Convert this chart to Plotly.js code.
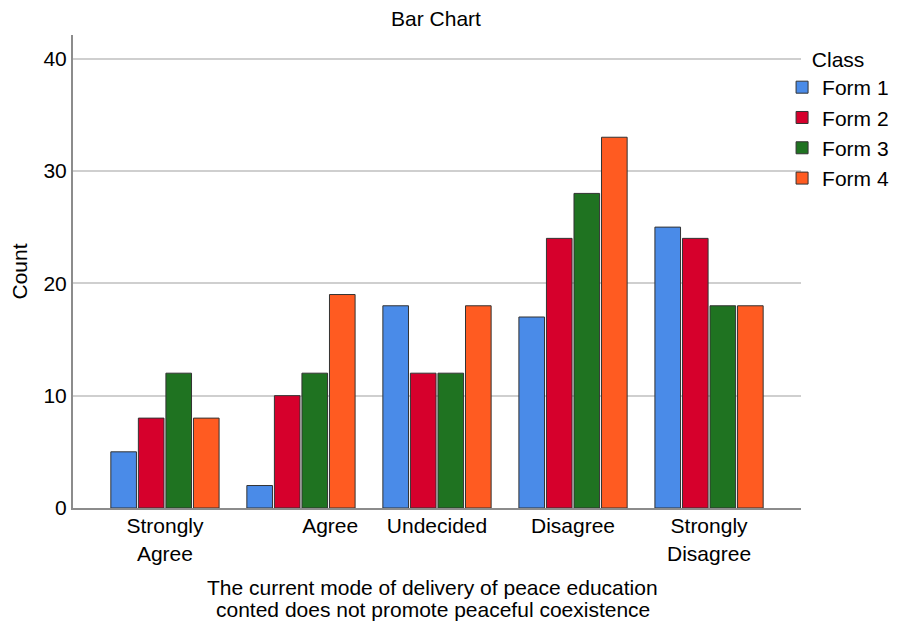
<!DOCTYPE html>
<html><head><meta charset="utf-8">
<script src="https://cdn.plot.ly/plotly-3.0.1.min.js"></script>
<style>body{margin:0;background:#fff}#c{width:899px;height:626px}</style>
</head><body><div id="c"></div>
<script>
var categories = ["Strongly Agree", "Agree", "Undecided", "Disagree", "Strongly Disagree"];
var tickLabels = ["Strongly<br>Agree", "\u00A0\u00A0\u00A0\u00A0\u00A0\u00A0\u00A0\u00A0\u00A0\u00A0Agree", "Undecided", "Disagree", "Strongly<br>Disagree"];
var xTitleLines = ["The current mode of delivery of peace education", "conted does not promote peaceful coexistence"];
var seriesNames = ["Form 1", "Form 2", "Form 3", "Form 4"];
var form1 = [5, 2, 18, 17, 25];
var form2 = [8, 10, 12, 24, 24];
var form3 = [12, 12, 12, 28, 18];
var form4 = [8, 19, 18, 33, 18];
var colors = ["#4a8be8", "#d6002c", "#1f7321", "#ff5b21"];
var values = [form1, form2, form3, form4];

var data = values.map(function(v, i){
  return {type:'bar', name: seriesNames[i], x: categories, y: v,
    marker:{color: colors[i], line:{color:'#333333', width:1}}};
});
var font = 'Arial, "Liberation Sans", sans-serif';
var fs = 21;
var layout = {
  width: 899, height: 626,
  margin: {l:73, r:98, t:35, b:118, autoexpand:false},
  paper_bgcolor:'#fff', plot_bgcolor:'#fff',
  font: {family: font, color:'#000', size:fs},
  title: {text:'Bar Chart', font:{size:fs, family:font}, x:0.485, xanchor:'center', y:0.971, yanchor:'middle'},
  barmode:'group', bargap:0.19, bargroupgap:0.07,
  xaxis: {type:'category', range:[-0.676, 4.676], tickvals: categories, ticktext: tickLabels,
    showline:true, linecolor:'#8c8c8c', linewidth:2, ticks:'', showgrid:false, zeroline:false,
    tickfont:{size:fs}, fixedrange:true, automargin:false, ticklabelstandoff:-2},
  yaxis: {range:[0, 42.1], tickvals:[0,10,20,30,40], showline:true, linecolor:'#8c8c8c', linewidth:2,
    ticks:'', showgrid:true, gridcolor:'#cfcfcf', gridwidth:2, zeroline:false, tickfont:{size:fs}, automargin:false,
    title:{text:'Count', font:{size:fs}, standoff:10}},
  annotations: xTitleLines.map(function(t, i){
    return {text:t, xref:'paper', yref:'paper', x:0.4945, y:[-0.169, -0.2156][i], xanchor:'center', yanchor:'middle',
      showarrow:false, font:{size:fs}};
  }),
  legend: {x:0.974, xanchor:'left', y:0.99, yanchor:'top', bgcolor:'rgba(0,0,0,0)',
    title:{text:'Class', side:'top center', font:{size:fs}}, font:{size:fs}, tracegroupgap:0, itemwidth:30},
  showlegend:true
};
Plotly.newPlot('c', data, layout, {displayModeBar:false, staticPlot:true});
</script></body></html>
